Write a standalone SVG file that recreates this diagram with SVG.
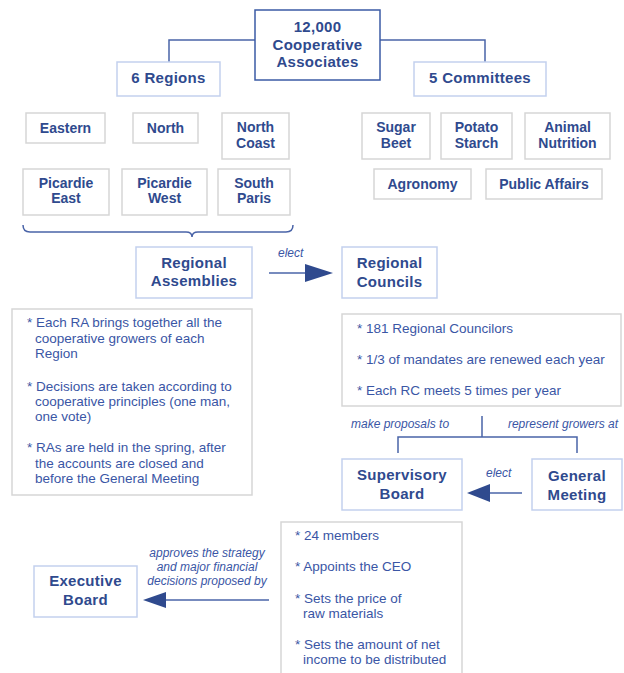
<svg xmlns="http://www.w3.org/2000/svg" width="624" height="673" viewBox="0 0 624 673">
<style>
.bg{fill:#ffffff}
.main{fill:#fff;stroke:#3b5ba5;stroke-width:1.5}
.blue{fill:#fff;stroke:#c3d1ee;stroke-width:1.5}
.gray{fill:#fff;stroke:#d6d6d6;stroke-width:1.5}
.t{font-family:"Liberation Sans",Arial,sans-serif;font-weight:bold;fill:#2f4a8e;text-anchor:middle}
.t15{font-size:15px;letter-spacing:0.3px}
.t14{font-size:14px}
.b{font-family:"Liberation Sans",Arial,sans-serif;font-size:13.5px;fill:#3a56a5}
.i{font-family:"Liberation Sans",Arial,sans-serif;font-size:12px;font-style:italic;fill:#3a56a5}
.ln{fill:none;stroke:#4a64a8;stroke-width:1.5}
.ar{fill:#2f4a8e}
</style>
<rect class="bg" x="0" y="0" width="624" height="673"/>

<g id="connectors">
  <path class="ln" d="M255,40 H169 V62"/>
  <path class="ln" d="M380,40 H485 V62"/>
  <path class="ln" d="M23,225 Q23,232 30,232 L186,232 Q192,232 192,237 Q192,232 198,232 L286,232 Q293,232 293,225" stroke-width="1.3"/>
  <path class="ln" d="M269,273 H306"/>
  <polygon class="ar" points="305,264 333,273 305,282"/>
  <path class="ln" d="M482,416 V437 M398,453 V437 H577 V453"/>
  <path class="ln" d="M522,493 H489"/>
  <polygon class="ar" points="490,484 467,493 490,502"/>
  <path class="ln" d="M269,600 H165"/>
  <polygon class="ar" points="166,592 143,600 166,608"/>
</g>

<g id="associates">
  <rect class="main" x="255" y="10" width="125" height="70"/>
  <text class="t t15" x="317.5" y="32">12,000</text>
  <text class="t t15" x="317.5" y="50">Cooperative</text>
  <text class="t t15" x="317.5" y="67">Associates</text>
</g>
<g id="regions">
  <rect class="blue" x="117" y="62" width="103" height="34"/>
  <text class="t t15" x="168.5" y="83">6 Regions</text>
</g>
<g id="committees">
  <rect class="blue" x="414" y="62" width="132" height="34"/>
  <text class="t t15" x="480" y="83">5 Committees</text>
</g>

<g id="eastern"><rect class="gray" x="26" y="113" width="79" height="30"/><text class="t t14" x="65.5" y="133">Eastern</text></g>
<g id="north"><rect class="gray" x="133" y="113" width="65" height="30"/><text class="t t14" x="165.5" y="133">North</text></g>
<g id="north-coast"><rect class="gray" x="222" y="113" width="67" height="46"/><text class="t t14" x="255.5" y="132">North</text><text class="t t14" x="255.5" y="148">Coast</text></g>
<g id="picardie-east"><rect class="gray" x="23" y="169" width="86" height="46"/><text class="t t14" x="66" y="188">Picardie</text><text class="t t14" x="66" y="203">East</text></g>
<g id="picardie-west"><rect class="gray" x="122" y="169" width="85" height="46"/><text class="t t14" x="164.5" y="188">Picardie</text><text class="t t14" x="164.5" y="203">West</text></g>
<g id="south-paris"><rect class="gray" x="218" y="169" width="72" height="46"/><text class="t t14" x="254" y="188">South</text><text class="t t14" x="254" y="203">Paris</text></g>

<g id="sugar-beet"><rect class="gray" x="362" y="113" width="68" height="46"/><text class="t t14" x="396" y="132">Sugar</text><text class="t t14" x="396" y="148">Beet</text></g>
<g id="potato-starch"><rect class="gray" x="441" y="113" width="71" height="46"/><text class="t t14" x="476.5" y="132">Potato</text><text class="t t14" x="476.5" y="148">Starch</text></g>
<g id="animal-nutrition"><rect class="gray" x="525" y="113" width="85" height="46"/><text class="t t14" x="567.5" y="132">Animal</text><text class="t t14" x="567.5" y="148">Nutrition</text></g>
<g id="agronomy"><rect class="gray" x="374" y="169" width="97" height="30"/><text class="t t14" x="422.5" y="189">Agronomy</text></g>
<g id="public-affairs"><rect class="gray" x="486" y="169" width="116" height="30"/><text class="t t14" x="544" y="189">Public Affairs</text></g>

<g id="regional-assemblies">
  <rect class="blue" x="136" y="247" width="116" height="51"/>
  <text class="t t15" x="194" y="268">Regional</text>
  <text class="t t15" x="194" y="286">Assemblies</text>
</g>
<g id="regional-councils">
  <rect class="blue" x="342" y="247" width="95" height="51"/>
  <text class="t t15" x="389.5" y="268">Regional</text>
  <text class="t t15" x="389.5" y="287">Councils</text>
</g>
<text class="i" x="278" y="257">elect</text>

<g id="ra-notes">
  <rect class="gray" x="12" y="309" width="240" height="186"/>
  <text class="b" x="27" y="327">* Each RA brings together all the</text>
  <text class="b" x="35" y="342.5">cooperative growers of each</text>
  <text class="b" x="35" y="358">Region</text>
  <text class="b" x="27" y="390.5">* Decisions are taken according to</text>
  <text class="b" x="35" y="405.5">cooperative principles (one man,</text>
  <text class="b" x="35" y="420.5">one vote)</text>
  <text class="b" x="27" y="452">* RAs are held in the spring, after</text>
  <text class="b" x="35" y="467.5">the accounts are closed and</text>
  <text class="b" x="35" y="482.5">before the General Meeting</text>
</g>

<g id="rc-notes">
  <rect class="gray" x="342" y="314" width="279" height="92"/>
  <text class="b" x="357" y="333">* 181 Regional Councilors</text>
  <text class="b" x="357" y="363.5">* 1/3 of mandates are renewed each year</text>
  <text class="b" x="357" y="395">* Each RC meets 5 times per year</text>
</g>

<text class="i" x="351" y="428">make proposals to</text>
<text class="i" x="618" y="428" text-anchor="end">represent growers at</text>

<g id="supervisory-board">
  <rect class="blue" x="342" y="459" width="120" height="51"/>
  <text class="t t15" x="402" y="480">Supervisory</text>
  <text class="t t15" x="402" y="499">Board</text>
</g>
<g id="general-meeting">
  <rect class="blue" x="532" y="459" width="90" height="51"/>
  <text class="t t15" x="577" y="481">General</text>
  <text class="t t15" x="577" y="500">Meeting</text>
</g>
<text class="i" x="486" y="477">elect</text>

<g id="sb-notes">
  <rect class="gray" x="281" y="522" width="181" height="170"/>
  <text class="b" x="295" y="540">* 24 members</text>
  <text class="b" x="295" y="571">* Appoints the CEO</text>
  <text class="b" x="295" y="603">* Sets the price of</text>
  <text class="b" x="303" y="618">raw materials</text>
  <text class="b" x="295" y="649">* Sets the amount of net</text>
  <text class="b" x="303" y="664">income to be distributed</text>
</g>

<g id="executive-board">
  <rect class="blue" x="34" y="566" width="103" height="51"/>
  <text class="t t15" x="85.5" y="586">Executive</text>
  <text class="t t15" x="85.5" y="605">Board</text>
</g>
<text class="i" text-anchor="middle" x="207" y="557">approves the strategy</text>
<text class="i" text-anchor="middle" x="207" y="571">and major financial</text>
<text class="i" text-anchor="middle" x="207" y="585">decisions proposed by</text>
</svg>
